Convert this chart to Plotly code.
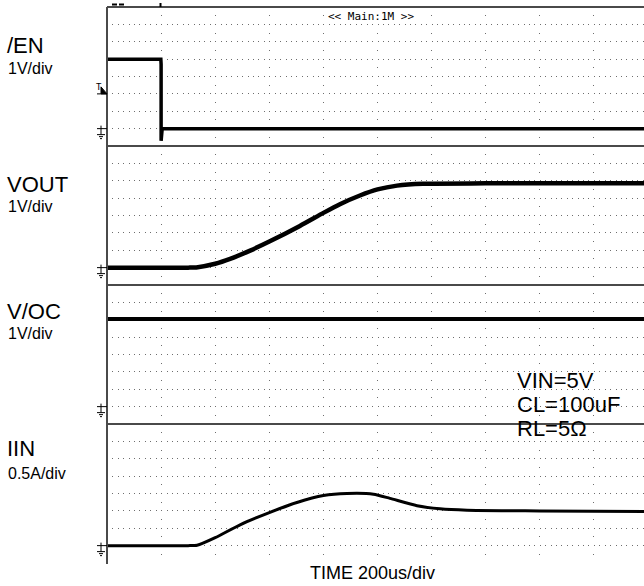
import plotly.graph_objects as go
from plotly.subplots import make_subplots

W, H = 644, 586
ML, MR, MT, MB = 107, 0, 7, 23

# time base: 200 us/div, screen cut at ~9.9 div
T_END = 1985

# /EN (V)
t_en = [0, 199, 200, 200, 204, T_END]
v_en = [4.0, 4.0, 3.7, -0.7, 0.0, 0.0]

# VOUT (V)
t_vout = [0, 150, 300, 330, 400, 455, 529, 600, 713, 800, 861, 935, 1000, 1072, 1168, 1400, T_END]
v_vout = [0.0, 0.0, 0.0, 0.01, 0.22, 0.5, 0.98, 1.5, 2.4, 3.15, 3.65, 4.15, 4.5, 4.72, 4.83, 4.85, 4.86]

# V/OC (V)
t_voc = [0, T_END]
v_voc = [5.05, 5.05]

# IIN (A)
t_iin = [0, 150, 300, 333, 400, 492, 600, 702, 800, 887, 985, 1046, 1146, 1231, 1331, 1600, T_END]
i_iin = [0.0, 0.0, 0.0, 0.01, 0.23, 0.6, 0.95, 1.24, 1.44, 1.5, 1.48, 1.36, 1.15, 1.06, 1.02, 1.0, 0.98]

ch_names = ["/EN", "VOUT", "V/OC", "IIN"]
ch_scales = ["1V/div", "1V/div", "1V/div", "0.5A/div"]
ch_div = [1.0, 1.0, 1.0, 0.5]
label_y = [45, 184, 311, 448]      # px, channel name centre
scale_y = [68, 206, 333, 473]      # px, scale text centre

cond_text = ["VIN=5V", "CL=100uF", "RL=5\u03a9"]
cond_y = [380, 404, 428]

GRID = "#6e6e6e"
BORDER = "#4a4a4a"


def pxx(x):
    return (x - ML) / (W - ML - MR)


def pxy(y):
    return 1 - (y - MT) / (H - MT - MB)


fig = make_subplots(rows=4, cols=1, shared_xaxes=True, vertical_spacing=0)

traces = [(t_en, v_en, 3.5, "linear"), (t_vout, v_vout, 4.5, "spline"),
          (t_voc, v_voc, 4, "linear"), (t_iin, i_iin, 3, "spline")]
for r, (t, v, w, shp) in enumerate(traces, start=1):
    fig.add_trace(go.Scatter(x=t, y=v, mode="lines",
                             line=dict(color="black", width=w, shape=shp, smoothing=0.6),
                             showlegend=False, hoverinfo="skip"), row=r, col=1)

for r in range(1, 5):
    d = ch_div[r - 1]
    fig.update_yaxes(range=[-1 * d, 7 * d], dtick=d, tick0=0, showticklabels=False, ticks="",
                     showgrid=True, gridcolor=GRID, gridwidth=1, griddash="1px,4.41px",
                     zeroline=False, showline=False, row=r, col=1)
    fig.update_xaxes(range=[0, T_END], dtick=200, tick0=0, showticklabels=False, ticks="",
                     showgrid=True, gridcolor=GRID, gridwidth=1, griddash="0px,8.19px,1px,8.19px",
                     zeroline=False, showline=False, row=r, col=1)

shapes = []
# frame: top, panel separators, left edge
for yp in [1.0, 0.75, 0.5, 0.25]:
    shapes.append(dict(type="line", xref="paper", yref="paper", x0=0, x1=1.02, y0=yp, y1=yp,
                       line=dict(color=BORDER, width=2)))
shapes.append(dict(type="line", xref="paper", yref="paper", x0=0, x1=0, y0=-0.002, y1=1.0,
                   line=dict(color=BORDER, width=2)))

# ground markers at each channel's 0 level
for r in range(1, 5):
    yr = "y" if r == 1 else f"y{r}"
    base = dict(type="line", xref="paper", yref=yr, xsizemode="pixel", ysizemode="pixel",
                xanchor=0, yanchor=0, line=dict(color="black", width=1))
    for x0, x1, y0, y1 in [(-10, 0, 0, 0), (-6, -6, 3, -6), (-10, -2, -6, -6),
                           (-8, -4, -8, -8), (-7, -5, -10, -10)]:
        shapes.append(dict(base, x0=x0, x1=x1, y0=y0, y1=y1))

# trigger level marker on /EN
shapes.append(dict(type="path", xref="paper", yref="y", xsizemode="pixel", ysizemode="pixel",
                   xanchor=0, yanchor=2, path="M-6,7 L0,0 L-6,0 Z",
                   fillcolor="black", line=dict(color="black", width=1)))
shapes.append(dict(type="line", xref="paper", yref="y", xsizemode="pixel", ysizemode="pixel",
                   xanchor=0, yanchor=2, x0=-10, x1=0, y0=0, y1=0, line=dict(color="black", width=1)))

# small marks above the screen
for x0, x1 in [(112, 117), (119, 124)]:
    shapes.append(dict(type="line", xref="paper", yref="paper", x0=pxx(x0), x1=pxx(x1),
                       y0=pxy(4.5), y1=pxy(4.5), line=dict(color="black", width=2)))
shapes.append(dict(type="line", xref="paper", yref="paper", x0=pxx(160.5), x1=pxx(160.5),
                   y0=pxy(3), y1=pxy(7), line=dict(color="black", width=2)))

fig.update_layout(shapes=shapes)

FONT = "Liberation Sans, Arial, sans-serif"
ann = []
for name, sc, ly, sy in zip(ch_names, ch_scales, label_y, scale_y):
    ann.append(dict(text=name, xref="paper", yref="paper", x=pxx(5), y=pxy(ly),
                    xanchor="left", yanchor="middle", showarrow=False,
                    font=dict(family=FONT, size=22, color="black")))
    ann.append(dict(text=sc, xref="paper", yref="paper", x=pxx(6), y=pxy(sy),
                    xanchor="left", yanchor="middle", showarrow=False,
                    font=dict(family=FONT, size=16, color="black")))

for txt, cy in zip(cond_text, cond_y):
    ann.append(dict(text=txt, xref="paper", yref="paper", x=pxx(515), y=pxy(cy),
                    xanchor="left", yanchor="middle", showarrow=False,
                    font=dict(family=FONT, size=22, color="black")))

ann.append(dict(text="T", xref="paper", yref="y", x=pxx(99), y=2, xanchor="center",
                yanchor="bottom", showarrow=False, font=dict(family="DejaVu Sans Mono", size=9, color="black")))
ann.append(dict(text="&lt;&lt; Main:1M &gt;&gt;", xref="paper", yref="paper", x=pxx(371), y=pxy(16),
                xanchor="center", yanchor="middle", showarrow=False,
                font=dict(family="DejaVu Sans Mono", size=11, color="black")))
ann.append(dict(text="TIME 200us/div", xref="paper", yref="paper", x=pxx(372), y=pxy(573),
                xanchor="center", yanchor="middle", showarrow=False,
                font=dict(family=FONT, size=18, color="black")))

fig.update_layout(
    annotations=ann,
    width=W, height=H,
    margin=dict(l=ML, r=MR, t=MT, b=MB, pad=0),
    paper_bgcolor="white", plot_bgcolor="white",
    showlegend=False,
)

fig.write_html("out.html", config={"displayModeBar": False},
               post_script="document.body.style.margin='0';")
